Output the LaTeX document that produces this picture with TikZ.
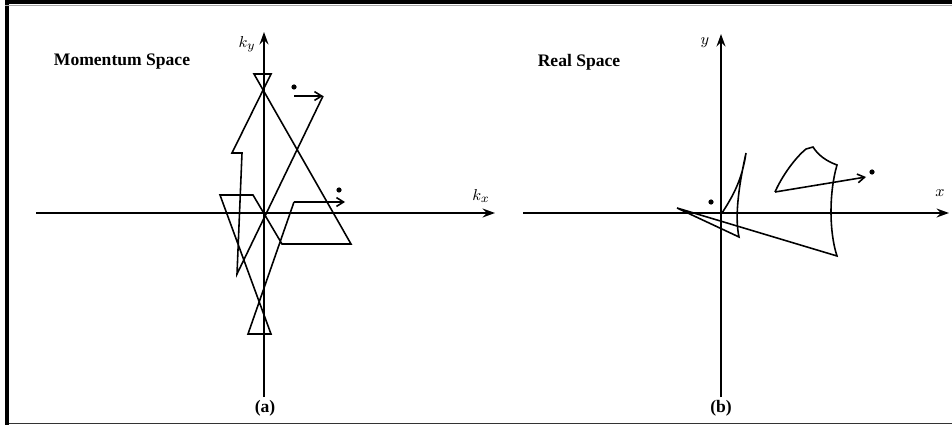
\documentclass[tikz,border=0pt]{standalone}
\usepackage{fontspec}
\setmainfont{Liberation Serif}
\usetikzlibrary{arrows.meta}
\begin{document}
\begin{tikzpicture}[x=0.02cm,y=-0.02cm,
  axis/.style={line width=1.3pt,-{Stealth[length=7pt,width=5pt]}},
  curve/.style={line width=0.9pt,line join=miter},
  vec/.style={line width=0.9pt,-{Straight Barb[length=4pt,width=5pt]}},
  dotm/.style={fill=black},
  title/.style={font=\bfseries\fontsize{10}{12}\selectfont},
  mlabel/.style={font=\fontsize{9.5}{11}\selectfont}]
\useasboundingbox (0,0) rectangle (952,425);
\fill (5,0) rectangle (952,4.3);
\fill (5,0) rectangle (9,425);
\draw[gray!70,line width=0.3pt] (5,4.8) -- (952,4.8);
\draw[black!80,line width=0.6pt] (9,423.5) -- (952,423.5);

% ---------- left panel ----------
\coordinate (ax0) at (36,213);
\coordinate (ax1) at (495,213);
\coordinate (ay0) at (264,397);
\coordinate (ay1) at (264,32);
\draw[axis] (ax0) -- (ax1);
\draw[axis] (ay0) -- (ay1);
\node[mlabel] (kx) at (481,196) {$k_x$};
\node[mlabel] (ky) at (247,44) {$k_y$};
\node[title] (ms) at (122,62) {Momentum Space};
\node[title] (la) at (265,408) {(a)};

\draw[curve] (294,202) -- (248,334) -- (271,334) -- (220,195) -- (253,195)
  -- (282,244) -- (351,244) -- (254,74) -- (271,74) -- (232,153) -- (242,153)
  -- (237,274) -- (323,96);
\coordinate (p1) at (294,96);
\coordinate (p2) at (323,96);
\coordinate (q1) at (294,202);
\coordinate (q2) at (345,202);
\draw[vec] (p1) -- (p2);
\draw[vec] (q1) -- (q2);
\fill[dotm] (294,87) circle (2.6);
\fill[dotm] (339,190) circle (2.6);

% ---------- right panel ----------
\coordinate (bx0) at (523,213);
\coordinate (bx1) at (949,213);
\coordinate (by0) at (721,397);
\coordinate (by1) at (721,34);
\draw[axis] (bx0) -- (bx1);
\draw[axis] (by0) -- (by1);
\node[mlabel] (xl) at (940,193) {$x$};
\node[mlabel] (yl) at (705,43) {$y$};
\node[title] (rs) at (579,62) {Real Space};
\node[title] (lb) at (721,408) {(b)};

\draw[curve] (722,213) .. controls (733,196) and (742,180) .. (746,153)
  .. controls (740,180) and (734,215) .. (739,237)
  -- (677,208) -- (837,256)
  .. controls (829,232) and (829,192) .. (837,165)
  .. controls (826,161) and (818,155) .. (813,147)
  -- (806,149) .. controls (795,158) and (782,176) .. (775,192);
\coordinate (r1) at (775,192);
\coordinate (r2) at (866,177);
\draw[vec] (r1) -- (r2);
\fill[dotm] (711,202) circle (2.6);
\fill[dotm] (872,172) circle (2.6);
\end{tikzpicture}
\end{document}
